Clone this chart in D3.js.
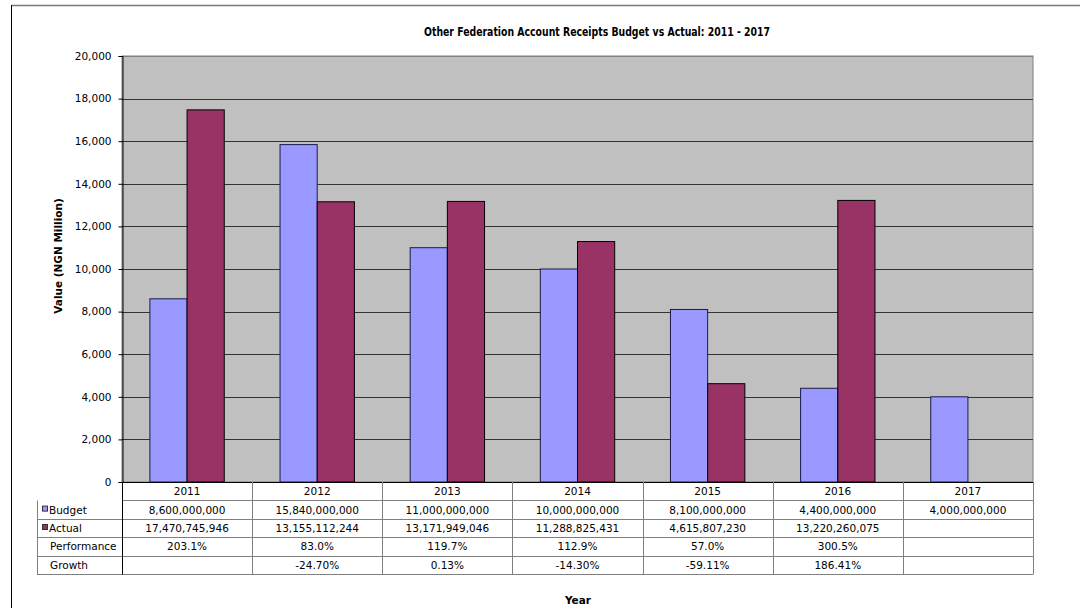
<!DOCTYPE html>
<html>
<head>
<meta charset="utf-8">
<script src="https://cdn.jsdelivr.net/npm/d3@7"></script>
<style>
  html, body { margin: 0; padding: 0; background: #fff; }
  svg { display: block; font-family: "DejaVu Sans", Verdana, sans-serif; }
</style>
</head>
<body>
<svg id="chart" width="1080" height="608"></svg>
<script>
// Receipts per year (NGN)
const years = ["2011", "2012", "2013", "2014", "2015", "2016", "2017"];
const budget = [8600000000, 15840000000, 11000000000, 10000000000, 8100000000, 4400000000, 4000000000];
const actual = [17470745946, 13155112244, 13171949046, 11288825431, 4615807230, 13220260075, null];
const performance = ["203.1%", "83.0%", "119.7%", "112.9%", "57.0%", "300.5%", ""];
const growth = ["", "-24.70%", "0.13%", "-14.30%", "-59.11%", "186.41%", ""];
const yTicks = [0, 2000, 4000, 6000, 8000, 10000, 12000, 14000, 16000, 18000, 20000];

const seriesNames = ["Budget", "Actual"];
const seriesValues = [budget, actual];
const colors = ["#9999FF", "#993366"];

const svg = d3.select("#chart");
const plot = { left: 122, right: 1033, top: 56, bottom: 482 };

// outer frame
svg.append("line").attr("x1", 11.5).attr("x2", 1080).attr("y1", 5.5).attr("y2", 5.5)
  .attr("stroke", "#777").attr("stroke-width", 1.5);
svg.append("line").attr("x1", 11.5).attr("x2", 11.5).attr("y1", 5).attr("y2", 608)
  .attr("stroke", "#000").attr("stroke-width", 1);

const x = d3.scaleBand().domain(years).range([plot.left, plot.right]).paddingInner(0).paddingOuter(0);
const bw = x.bandwidth() / 3.5;       // gap width 150% of a bar
const y = d3.scaleLinear().domain([0, 20000]).range([plot.bottom, plot.top]);

// plot background
svg.append("rect").attr("x", plot.left).attr("y", plot.top)
  .attr("width", plot.right - plot.left).attr("height", plot.bottom - plot.top)
  .attr("fill", "#C0C0C0").attr("stroke", "#808080").attr("stroke-width", 1);

// gridlines
svg.append("g").selectAll("line").data(yTicks.filter(d => d > 0)).join("line")
  .attr("x1", plot.left).attr("x2", plot.right)
  .attr("y1", d => Math.round(y(d)) + 0.5).attr("y2", d => Math.round(y(d)) + 0.5)
  .attr("stroke", d => d === 20000 ? "#808080" : "#333").attr("stroke-width", 1);

// bars
seriesValues.forEach((vals, si) => {
  svg.append("g").selectAll("rect")
    .data(years.map((yr, i) => ({ yr, v: vals[i] })).filter(d => d.v != null))
    .join("rect")
    .attr("x", d => x(d.yr) + bw * 0.75 + si * bw)
    .attr("y", d => y(d.v / 1e6))
    .attr("width", bw)
    .attr("height", d => plot.bottom - y(d.v / 1e6))
    .attr("fill", colors[si])
    .attr("stroke", si === 0 ? "#1a1a4a" : "#000")
    .attr("stroke-width", 1);
});

// y axis
const yAxis = d3.axisLeft(y).tickValues(yTicks).tickSize(4).tickPadding(7)
  .tickFormat(d3.format(","));
const ga = svg.append("g").attr("transform", `translate(${plot.left + 0.5},0)`).call(yAxis);
ga.select(".domain").attr("stroke", "#000");
ga.selectAll(".tick line").attr("stroke", "#000");
ga.selectAll("text").attr("font-size", 10.5).attr("fill", "#000")
  .attr("font-family", "DejaVu Sans, sans-serif");

// x baseline
svg.append("line").attr("x1", plot.left).attr("x2", plot.right)
  .attr("y1", plot.bottom + 0.5).attr("y2", plot.bottom + 0.5).attr("stroke", "#000");

// data table
const rowH = 18.4;
const tableTop = plot.bottom;
const labelLeft = 37;
const rows = [
  { label: "Budget", key: 0, vals: budget.map(v => v == null ? "" : d3.format(",")(v)) },
  { label: "Actual", key: 1, vals: actual.map(v => v == null ? "" : d3.format(",")(v)) },
  { label: "Performance", key: null, vals: performance },
  { label: "Growth", key: null, vals: growth }
];
const tbl = svg.append("g");
const lineCol = "#808080";
const nRows = rows.length + 1;
// horizontal lines
for (let r = 1; r <= nRows; r++) {
  const yy = Math.round(tableTop + r * rowH) + 0.5;
  tbl.append("line").attr("x1", r === 1 ? plot.left : labelLeft).attr("x2", plot.right)
    .attr("y1", yy).attr("y2", yy).attr("stroke", lineCol);
}
// vertical lines
const tableBottom = Math.round(tableTop + nRows * rowH) + 0.5;
years.forEach((yr, i) => {
  const xx = Math.round(x(yr)) + 0.5;
  tbl.append("line").attr("x1", xx).attr("x2", xx).attr("y1", tableTop).attr("y2", tableBottom)
    .attr("stroke", i === 0 ? "#000" : lineCol);
});
tbl.append("line").attr("x1", plot.right + 0.5).attr("x2", plot.right + 0.5)
  .attr("y1", tableTop).attr("y2", tableBottom).attr("stroke", lineCol);
tbl.append("line").attr("x1", labelLeft + 0.5).attr("x2", labelLeft + 0.5)
  .attr("y1", Math.round(tableTop + rowH) + 0.5).attr("y2", tableBottom).attr("stroke", lineCol);

// header row: years
tbl.selectAll("text.yr").data(years).join("text").attr("class", "yr")
  .attr("x", d => x(d) + x.bandwidth() / 2)
  .attr("y", tableTop + rowH / 2 + 4)
  .attr("text-anchor", "middle").attr("font-size", 10.5).text(d => d);

rows.forEach((row, r) => {
  const cy = tableTop + (r + 1) * rowH + rowH / 2 + 4;
  if (row.key != null) {
    tbl.append("rect").attr("x", 42.5).attr("y", cy - 7.5).attr("width", 5).attr("height", 5)
      .attr("fill", colors[row.key]).attr("stroke", "#333").attr("stroke-width", 1);
    tbl.append("text").attr("x", 49).attr("y", cy).attr("font-size", 10.5).text(row.label);
  } else {
    tbl.append("text").attr("x", 50).attr("y", cy).attr("font-size", 10.5).text(row.label);
  }
  tbl.selectAll(null).data(row.vals).join("text")
    .attr("x", (d, i) => x(years[i]) + x.bandwidth() / 2)
    .attr("y", cy).attr("text-anchor", "middle").attr("font-size", 10.5)
    .text(d => d);
});

// titles
svg.append("text").attr("x", 597).attr("y", 36).attr("text-anchor", "middle")
  .attr("font-size", 12.5).attr("font-weight", "bold")
  .attr("textLength", 346).attr("lengthAdjust", "spacingAndGlyphs")
  .text("Other Federation Account Receipts Budget vs Actual: 2011 - 2017");
svg.append("text").attr("transform", "translate(62,256) rotate(-90)").attr("text-anchor", "middle")
  .attr("font-size", 10.5).attr("font-weight", "bold").text("Value (NGN Million)");
svg.append("text").attr("x", 578).attr("y", 604).attr("text-anchor", "middle")
  .attr("font-size", 10.5).attr("font-weight", "bold").text("Year");
</script>
</body>
</html>
